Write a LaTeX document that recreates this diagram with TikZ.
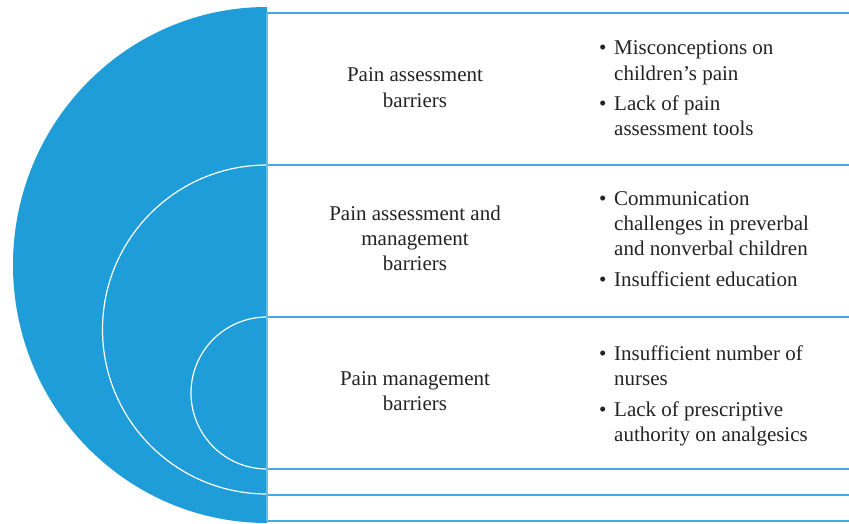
\documentclass[tikz,border=0pt]{standalone}
\usepackage{fontspec}
\setmainfont{Liberation Serif}
\definecolor{discblue}{RGB}{31,157,216}
\definecolor{lineblue}{RGB}{66,172,224}
\definecolor{txtgray}{RGB}{35,35,35}
\begin{document}
\begin{tikzpicture}[x=1pt,y=-1pt,
  lefttext/.style={text=txtgray,font=\fontsize{21}{25.5}\selectfont,anchor=base,inner sep=0},
  itemtext/.style={text=txtgray,font=\fontsize{21}{25.5}\selectfont,anchor=base west,inner sep=0},
  rowline/.style={draw=lineblue,line width=1.6pt},
  arcline/.style={draw=white,line width=1.2pt}]
\useasboundingbox (0,0) rectangle (849,524);
% half disc and white arcs
\begin{scope}
  \clip (0,0) rectangle (267,524);
  \fill[discblue] (267,265) ellipse [x radius=254, y radius=258];
  \draw[arcline] (267,329.5) circle [radius=164.5];
  \draw[arcline] (267,393) circle [radius=76];
\end{scope}
% horizontal rows
\draw[rowline] (267,13) -- (849,13);
\draw[rowline] (267,165) -- (849,165);
\draw[rowline] (267,317) -- (849,317);
\draw[rowline] (267,469) -- (849,469);
\draw[rowline] (267,495) -- (849,495);
\draw[rowline] (267,521) -- (849,521);
\draw[draw=lineblue!80,line width=1.4pt] (267,13) -- (267,521);
% left labels
\node[lefttext] (l1) at (415,82) {\begin{tabular}[t]{@{}c@{}}Pain assessment\\barriers\end{tabular}};
\node[lefttext] (l2) at (415,220) {\begin{tabular}[t]{@{}c@{}}Pain assessment and\\management\\barriers\end{tabular}};
\node[lefttext] (l3) at (415,385) {\begin{tabular}[t]{@{}c@{}}Pain management\\barriers\end{tabular}};
% right bullet lists
\node[itemtext] (r1) at (599,55) {\begin{tabular}[t]{@{}p{15pt}@{}l@{}}
\textbullet & Misconceptions on\\
 & children’s pain\\[4.5pt]
\textbullet & Lack of pain\\
 & assessment tools
\end{tabular}};
\node[itemtext] (r2) at (599,205) {\begin{tabular}[t]{@{}p{15pt}@{}l@{}}
\textbullet & Communication\\
 & challenges in preverbal\\
 & and nonverbal children\\[5pt]
\textbullet & Insufficient education
\end{tabular}};
\node[itemtext] (r3) at (599,360) {\begin{tabular}[t]{@{}p{15pt}@{}l@{}}
\textbullet & Insufficient number of\\
 & nurses\\[5pt]
\textbullet & Lack of prescriptive\\
 & authority on analgesics
\end{tabular}};
\end{tikzpicture}
\end{document}
